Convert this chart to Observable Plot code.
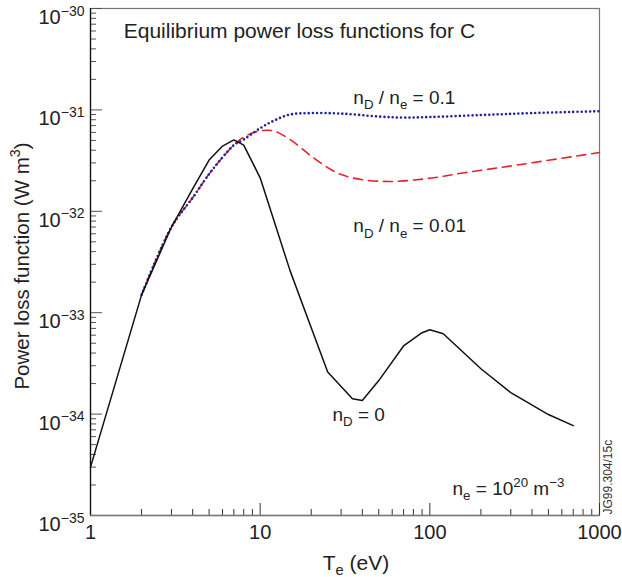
<!DOCTYPE html>
<html><head><meta charset="utf-8">
<script src="https://cdn.jsdelivr.net/npm/d3@7"></script>
<script src="https://cdn.jsdelivr.net/npm/@observablehq/plot@0.6"></script>
<style>body{margin:0;background:#fff}</style>
</head><body><div id="chart"></div>
<script>
// ---- data ----
const tempNoD = [1, 2, 3, 4, 5, 6, 7, 8, 10, 15, 20, 25, 35, 40, 50, 70, 90, 100, 120, 200, 300, 500, 700];
const lossNoD = [3.0e-35, 1.5e-33, 7.0e-33, 1.66e-32, 3.2e-32, 4.4e-32, 5.06e-32, 4.5e-32, 2.14e-32, 2.6e-33, 7.1e-34, 2.6e-34, 1.42e-34, 1.36e-34, 2.14e-34, 4.7e-34, 6.35e-34, 6.8e-34, 6.2e-34, 2.8e-34, 1.63e-34, 9.9e-35, 7.7e-35];

const temp01 = [2, 3, 4, 5, 6, 7, 8, 10, 12, 15, 20, 30, 50, 70, 100, 200, 400, 1000];
const loss01 = [1.5e-33, 7.0e-33, 1.36e-32, 2.33e-32, 3.4e-32, 4.5e-32, 5.1e-32, 6.6e-32, 7.8e-32, 9.0e-32, 9.3e-32, 9.2e-32, 8.6e-32, 8.4e-32, 8.5e-32, 8.9e-32, 9.3e-32, 9.7e-32];

const temp001 = [2, 3, 4, 5, 6, 7, 8, 10, 12, 15, 20, 25, 30, 40, 60, 100, 160, 300, 1000];
const loss001 = [1.5e-33, 7.0e-33, 1.36e-32, 2.33e-32, 3.4e-32, 4.5e-32, 5.4e-32, 6.2e-32, 6.2e-32, 5.1e-32, 3.5e-32, 2.7e-32, 2.3e-32, 2.05e-32, 1.97e-32, 2.12e-32, 2.4e-32, 2.8e-32, 3.8e-32];

const xDomain = [1, 1000];
const yDomain = [1e-35, 1e-30];
const xTickValues = [1, 10, 100, 1000];
const yTickExponents = [-35, -34, -33, -32, -31, -30];
const minorMultipliers = [2, 3, 4, 5, 6, 7, 8, 9];

const titleText = "Equilibrium power loss functions for C";
const xLabel = "T_{e} (eV)";
const yLabel = "Power loss function (W m^{3})";
const stampText = "JG99.304/15c";
const titleNote = [{text: titleText, x: 1.57, y: 5.15e-31}];
const annotations = [
  {text: "n_{D} / n_{e} = 0.1", x: 35.4, y: 1.15e-31},
  {text: "n_{D} / n_{e} = 0.01", x: 35.4, y: 6.18e-33},
  {text: "n_{D} = 0", x: 26.7, y: 8.6e-35},
  {text: "n_{e} = 10^{20} m^{\u22123}", x: 136, y: 1.61e-35}
];

// ---- derived tick lists ----
const yMajor = yTickExponents.map(e => Math.pow(10, e));
const yMinor = yTickExponents.slice(0, -1).flatMap(e => minorMultipliers.map(m => m * Math.pow(10, e)));
const xMinor = xTickValues.slice(0, -1).flatMap(v => minorMultipliers.map(m => m * v));

const W = 622, H = 577;
const mL = 90, mR = 23, mT = 8, mB = 62;
const plotW = W - mL - mR, plotH = H - mT - mB;
const FONT = "'Liberation Sans', Arial, Helvetica, sans-serif";

const toRows = (xs, ys) => xs.map((x, i) => ({x, y: ys[i]}));

const svg = Plot.plot({
  width: W, height: H,
  marginLeft: mL, marginRight: mR, marginTop: mT, marginBottom: mB,
  style: {fontFamily: FONT, fontSize: "19px", color: "#222", background: "#fff", overflow: "visible"},
  x: {type: "log", domain: xDomain, axis: null},
  y: {type: "log", domain: yDomain, axis: null},
  marks: [
    Plot.frame({stroke: "#777", strokeWidth: 1.2}),
    // minor & major ticks (inward)
    Plot.ruleY(yMinor, {y: d => d, insetRight: plotW - 6, stroke: "#555", strokeWidth: 1}),
    Plot.ruleY(yMajor, {y: d => d, insetRight: plotW - 12, stroke: "#555", strokeWidth: 1}),
    Plot.ruleX(xMinor, {x: d => d, insetTop: plotH - 6, stroke: "#333", strokeWidth: 1}),
    Plot.ruleX(xTickValues, {x: d => d, insetTop: plotH - 12, stroke: "#333", strokeWidth: 1}),
    Plot.ruleX([xDomain[0]], {stroke: "#111", strokeWidth: 1.3}),
    Plot.ruleY([yDomain[0]], {stroke: "#777", strokeWidth: 1.3}),
    // tick labels
    Plot.axisY({ticks: yMajor, tickSize: 0, tickPadding: 6, fontSize: 20, label: null, dy: 9,
      tickFormat: d => "10^{\u2212" + Math.abs(Math.round(Math.log10(d))) + "}"}),
    Plot.axisX({ticks: xTickValues, tickSize: 0, tickPadding: 9, fontSize: 20,
      tickFormat: d => String(d), label: null}),
    // curves
    Plot.line(toRows(temp001, loss001), {x: "x", y: "y", stroke: "#e8202a", strokeWidth: 1.6,
      strokeDasharray: "9,6", curve: "catmull-rom"}),
    Plot.line(toRows(temp01, loss01), {x: "x", y: "y", stroke: "#23239a", strokeWidth: 2.6,
      strokeDasharray: "0,4.2", strokeLinecap: "round", curve: "catmull-rom"}),
    Plot.line(toRows(tempNoD, lossNoD), {x: "x", y: "y", stroke: "#111", strokeWidth: 1.5}),
    // annotations
    Plot.text(titleNote, {x: "x", y: "y", text: "text", textAnchor: "start", lineAnchor: "bottom",
      fontSize: 21, fill: "#222"}),
    Plot.text(annotations, {x: "x", y: "y", text: "text", textAnchor: "start", lineAnchor: "bottom",
      fontSize: 19, fill: "#222"}),
    Plot.text([xLabel], {frameAnchor: "bottom", dx: 11, dy: 54, text: d => d, textAnchor: "middle",
      lineAnchor: "bottom", fontSize: 21, fill: "#222"}),
    Plot.text([yLabel], {frameAnchor: "left", dx: -68, dy: 4, rotate: -90, text: d => d, textAnchor: "middle",
      fontSize: 20.5, fill: "#222"}),
    Plot.text([stampText], {frameAnchor: "bottom-right", dx: 12, dy: -1, rotate: -90, text: d => d,
      textAnchor: "start", lineAnchor: "bottom", fontSize: 12, fill: "#333"})
  ]
});

document.getElementById("chart").appendChild(svg);

// rich text: _{sub} and ^{sup}
function richify(root) {
  root.querySelectorAll("text").forEach(el => {
    const s = el.textContent;
    if (!/[_^]\{/.test(s)) return;
    const fs = parseFloat(getComputedStyle(el).fontSize) || 19;
    while (el.firstChild) el.removeChild(el.firstChild);
    const re = /([_^])\{([^}]*)\}|([^_^]+)/g;
    let m, shift = 0;
    while ((m = re.exec(s))) {
      const ts = document.createElementNS("http://www.w3.org/2000/svg", "tspan");
      let target, size;
      if (m[1] === "_") { target = 0.28 * fs; size = 0.7 * fs; ts.textContent = m[2]; }
      else if (m[1] === "^") { target = -0.42 * fs; size = 0.7 * fs; ts.textContent = m[2]; }
      else { target = 0; size = fs; ts.textContent = m[3]; }
      if (target !== shift) ts.setAttribute("dy", (target - shift).toFixed(2));
      ts.setAttribute("font-size", size.toFixed(2));
      shift = target;
      el.appendChild(ts);
    }
  });
}
richify(svg);
</script>
</body></html>
